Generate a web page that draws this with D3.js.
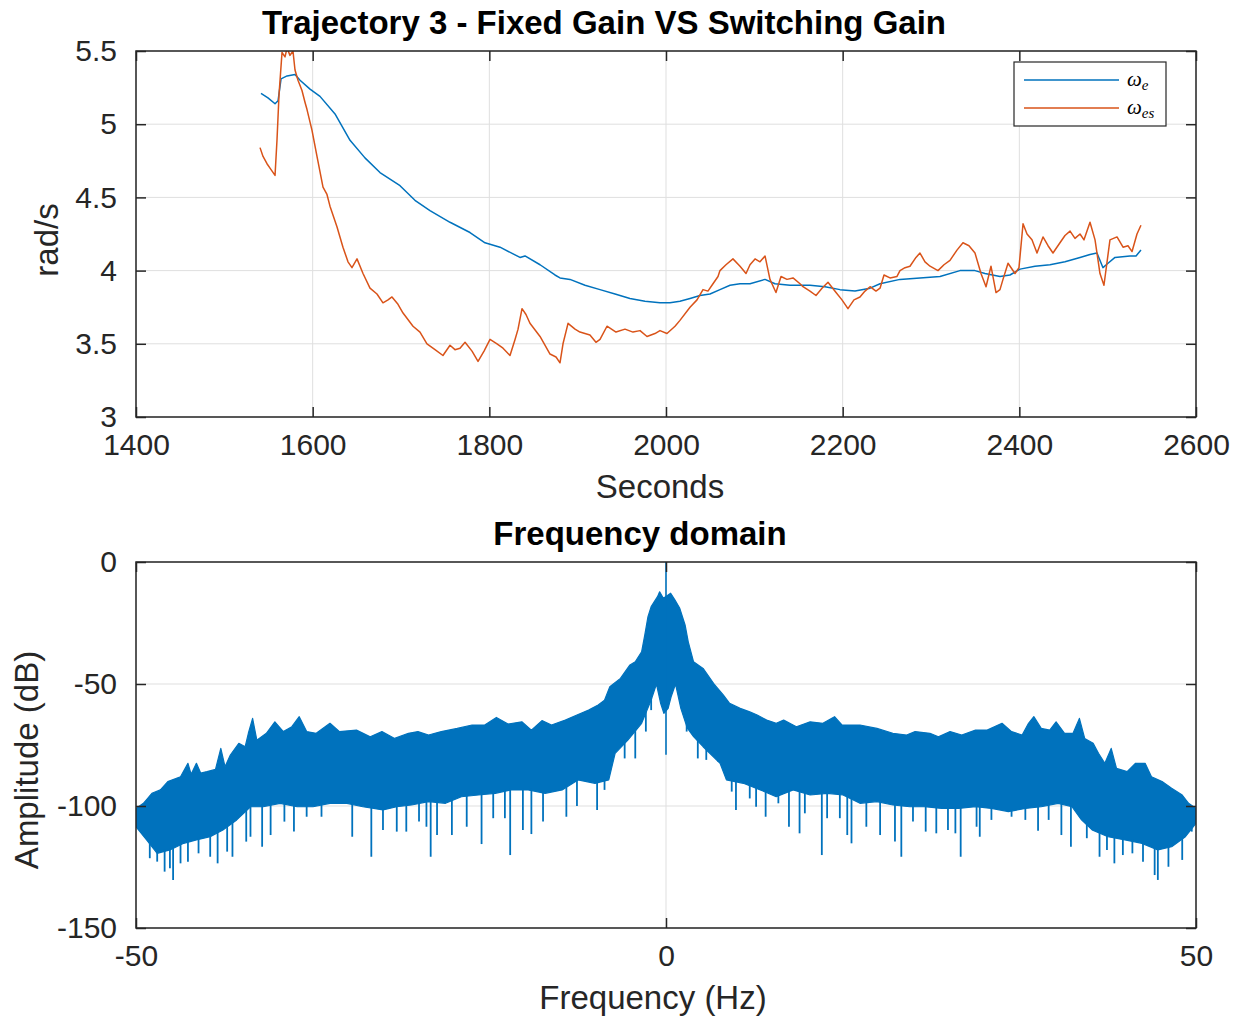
<!DOCTYPE html>
<html lang="en">
<head>
    <meta charset="UTF-8">
    <title>Trajectory 3 - Fixed Gain VS Switching Gain</title>
    <script src="https://d3js.org/d3.v7.min.js"></script>
    <style>
        body { margin: 0; background: #fff; }
        svg { display: block; }
        .tick text { font-family: "Liberation Sans", Arial, Helvetica, sans-serif; fill: #262626; }
    </style>
</head>
<body>
    <div id="container"></div>

    <script>
        // ---- top plot: time series [seconds, rad/s]
        const omegaE = [
            [1541.5, 5.21], [1549.4, 5.18], [1557.4, 5.14], [1560.8, 5.16], [1564.2, 5.31], [1571, 5.33],
            [1580, 5.34], [1585.7, 5.30], [1597, 5.24], [1608.3, 5.19], [1625.3, 5.07], [1642.3, 4.89],
            [1659.2, 4.77], [1676.2, 4.67], [1698.9, 4.58], [1715.8, 4.48], [1732.8, 4.41], [1755.5, 4.33],
            [1778.1, 4.26], [1795.1, 4.19], [1812.1, 4.16], [1834.7, 4.09], [1840.4, 4.10], [1857.4, 4.04],
            [1874.3, 3.97], [1880, 3.95], [1891.3, 3.94], [1908.3, 3.90], [1925.3, 3.87], [1942.3, 3.84],
            [1959.2, 3.81], [1976.2, 3.79], [1993.2, 3.78], [2004.5, 3.78], [2015.8, 3.79], [2027.2, 3.81],
            [2038.5, 3.83], [2049.8, 3.84], [2061.1, 3.87], [2072.5, 3.90], [2083.8, 3.91], [2095.1, 3.91],
            [2112.1, 3.94], [2123.4, 3.91], [2140.4, 3.90], [2163, 3.90], [2180, 3.89], [2197, 3.87],
            [2214, 3.86], [2231, 3.88], [2242.3, 3.91], [2264.9, 3.94], [2287.5, 3.95], [2310.2, 3.96],
            [2332.8, 4.00], [2349.8, 4.00], [2361.1, 3.98], [2378.1, 3.96], [2389.4, 3.97], [2400.8, 4.01],
            [2417.7, 4.03], [2434.7, 4.04], [2451.7, 4.06], [2468.7, 4.09], [2480, 4.11], [2487.9, 4.12],
            [2494.7, 4.02], [2500.4, 4.05], [2508.3, 4.09], [2525.3, 4.10], [2532.1, 4.10], [2537.7, 4.14]
        ];

        const omegaEs = [
            [1540.4, 4.84], [1543.8, 4.78], [1548.3, 4.73], [1551.7, 4.70], [1557.4, 4.65], [1559.6, 4.89],
            [1561.9, 5.20], [1565.3, 5.49], [1568.7, 5.46], [1571, 5.52], [1574.3, 5.47], [1577.7, 5.50],
            [1580, 5.37], [1583.4, 5.30], [1587.9, 5.23], [1591.3, 5.15], [1593.6, 5.10], [1599.2, 4.96],
            [1604.9, 4.78], [1611.7, 4.57], [1616.2, 4.52], [1619.6, 4.44], [1627.5, 4.30], [1634.3, 4.16],
            [1640, 4.06], [1644.5, 4.02], [1650.2, 4.08], [1657, 3.98], [1664.9, 3.88], [1672.8, 3.84],
            [1679.6, 3.78], [1685.3, 3.80], [1689.8, 3.82], [1696.6, 3.77], [1702.3, 3.71], [1713.6, 3.62],
            [1721.5, 3.58], [1729.4, 3.50], [1738.5, 3.46], [1747.5, 3.42], [1755.5, 3.49], [1761.1, 3.46],
            [1766.8, 3.47], [1772.5, 3.51], [1780.4, 3.45], [1787.2, 3.38], [1794, 3.45], [1800.8, 3.53],
            [1808.7, 3.50], [1815.5, 3.47], [1823.4, 3.42], [1829.1, 3.53], [1832.5, 3.60], [1837, 3.74],
            [1841.5, 3.70], [1846, 3.64], [1857.4, 3.55], [1868.7, 3.43], [1875.5, 3.41], [1880, 3.37],
            [1883.4, 3.50], [1889.1, 3.64], [1897, 3.60], [1902.6, 3.58], [1913.9, 3.56], [1920.7, 3.51],
            [1925.3, 3.53], [1933.2, 3.62], [1943.4, 3.58], [1953.6, 3.60], [1962.6, 3.58], [1970.6, 3.59],
            [1978.5, 3.55], [1987.5, 3.57], [1993.2, 3.59], [2001.1, 3.57], [2010.2, 3.62], [2015.8, 3.66],
            [2027.2, 3.75], [2035.1, 3.80], [2041.9, 3.87], [2047.5, 3.86], [2053.2, 3.91], [2058.9, 3.96],
            [2061.1, 4.00], [2067.9, 4.04], [2075.8, 4.08], [2083.8, 4.03], [2090.6, 3.98], [2095.1, 4.04],
            [2100.8, 4.08], [2106.4, 4.06], [2112.1, 4.10], [2117.7, 3.94], [2124.5, 3.85], [2130.2, 3.96],
            [2137, 3.94], [2143.8, 3.95], [2151.7, 3.91], [2155.1, 3.89], [2163, 3.86], [2169.8, 3.83],
            [2176.6, 3.88], [2183.4, 3.92], [2192.5, 3.85], [2199.2, 3.80], [2206, 3.74], [2212.8, 3.80],
            [2219.6, 3.82], [2225.3, 3.86], [2231, 3.89], [2237.7, 3.86], [2242.3, 3.88], [2246.8, 3.97],
            [2253.6, 3.95], [2261.5, 3.96], [2264.9, 4.00], [2270.6, 4.02], [2276.2, 4.03], [2283, 4.09],
            [2287.5, 4.12], [2293.2, 4.06], [2298.9, 4.03], [2307.9, 4.00], [2314.7, 4.04], [2321.5, 4.07],
            [2329.4, 4.14], [2336.2, 4.19], [2343, 4.17], [2349.8, 4.12], [2356.6, 3.98], [2362.3, 3.89],
            [2367.9, 4.03], [2373.6, 3.85], [2378.1, 3.87], [2381.5, 3.94], [2387.2, 4.05], [2395.1, 3.98],
            [2399.6, 4.02], [2404.2, 4.32], [2408.7, 4.25], [2414.3, 4.21], [2420, 4.12], [2426.8, 4.23],
            [2432.5, 4.17], [2438.1, 4.12], [2446, 4.19], [2451.7, 4.24], [2457.4, 4.27], [2463, 4.22],
            [2468.7, 4.25], [2473.2, 4.21], [2480, 4.33], [2485.7, 4.21], [2491.3, 3.98], [2495.8, 3.90],
            [2502.6, 4.21], [2510.6, 4.23], [2517.4, 4.16], [2523, 4.17], [2527.6, 4.13], [2533.2, 4.25],
            [2537.7, 4.31]
        ];

        const timeTicks = [1400, 1600, 1800, 2000, 2200, 2400, 2600];
        const speedTicks = [3, 3.5, 4, 4.5, 5, 5.5];
        const legendLabels = [["\u03c9", "e"], ["\u03c9", "es"]];

        // ---- bottom plot: spectrum [Hz, dB]
        // upper edge of the dense band
        const specUpper = [
            [-50, -101], [-49.3, -98.9], [-48.5, -94.8], [-47.7, -93.4], [-47.0, -90.0], [-45.8, -88.0],
            [-45.1, -82.5], [-44.8, -87], [-44.3, -82.5], [-43.9, -86.5], [-43.3, -85.9], [-42.5, -85.0],
            [-42.0, -76.4], [-41.6, -83.9], [-41.1, -79.1], [-40.3, -74.3], [-39.7, -75.7], [-39.4, -70.2],
            [-39.0, -64.1], [-38.6, -73.0], [-37.7, -70.2], [-36.9, -65.5], [-36.1, -69.5], [-35.3, -67.5],
            [-34.6, -63.4], [-33.9, -69.5], [-33.0, -70.2], [-31.7, -66.1], [-30.8, -69.5], [-29.2, -68.9],
            [-27.9, -71.6], [-26.8, -69.5], [-25.6, -72.3], [-24.3, -70.2], [-23.4, -69.5], [-22.4, -70.9],
            [-21.2, -69.5], [-19.7, -68.2], [-18.3, -66.8], [-17.1, -66.8], [-16.0, -63.7], [-14.9, -66.4],
            [-13.6, -65.5], [-12.7, -68.9], [-11.7, -65.0], [-10.8, -66.8], [-9.5, -64.8], [-8.4, -62.7],
            [-7.3, -60.7], [-6.4, -58.6], [-5.8, -56.6], [-5.3, -51.1], [-4.3, -47.7], [-3.4, -42.2],
            [-2.9, -40.9], [-2.3, -36.8], [-2.0, -29.9], [-1.7, -22.4], [-1.4, -18.3], [-0.8, -14.2],
            [-0.6, -12.2], [-0.25, -14.9], [0.44, -12.8], [0.85, -15.6], [1.3, -19.0], [1.8, -25.8],
            [2.1, -32.7], [2.6, -40.9], [3.5, -43.6], [4.6, -50.4], [5.4, -54.5], [6.0, -57.9],
            [7.0, -60.0], [7.9, -61.4], [8.6, -62.7], [9.5, -64.8], [10.4, -66.1], [11.1, -64.8],
            [12.3, -67.5], [13.6, -65.5], [14.8, -66.1], [15.9, -63.4], [16.6, -66.8], [18.3, -66.8],
            [19.9, -68.2], [21.4, -70.2], [22.7, -70.9], [23.5, -69.5], [24.9, -70.2], [25.7, -71.6],
            [26.8, -69.5], [27.9, -70.9], [29.2, -68.9], [30.3, -68.9], [31.7, -66.1], [32.6, -69.5],
            [33.6, -70.9], [34.2, -66.1], [34.7, -63.4], [35.4, -68.2], [36.2, -68.9], [36.8, -65.5],
            [37.6, -70.2], [38.4, -70.2], [39.0, -64.1], [39.5, -72.3], [40.3, -74.3], [40.8, -78.4],
            [41.4, -82.5], [42.0, -76.4], [42.5, -84.6], [43.5, -85.9], [44.3, -82.5], [45.2, -82.5],
            [45.8, -88.0], [46.8, -90.0], [47.7, -92.7], [48.7, -95.5], [49.3, -98.9], [50, -101]
        ];

        // lower edge of the dense band
        const specLower = [
            [-50, -108.5], [-49.0, -113.9], [-48.0, -119.4], [-46.8, -118.0], [-45.5, -115.3], [-44.3, -113.9],
            [-43.0, -112.6], [-41.8, -109.8], [-40.5, -105.7], [-39.2, -100.3], [-38.0, -100.3], [-36.4, -98.9],
            [-34.8, -100.3], [-33.3, -100.3], [-31.7, -98.9], [-30.1, -98.9], [-28.6, -100.3], [-26.7, -101.6],
            [-25.4, -100.3], [-24.0, -99.6], [-22.4, -98.2], [-20.8, -98.9], [-19.3, -96.2], [-17.7, -95.5],
            [-16.1, -94.8], [-14.6, -93.4], [-13.0, -93.4], [-11.4, -94.8], [-9.8, -93.4], [-8.3, -89.3],
            [-6.7, -90.7], [-5.4, -89.3], [-4.8, -78.4], [-3.6, -73.0], [-2.3, -66.1], [-1.4, -56.6],
            [-0.9, -50], [-0.5, -58], [-0.2, -62], [0.2, -60], [0.5, -55], [0.9, -50], [1.4, -60],
            [2.0, -68], [2.6, -71.6], [3.5, -75.7], [5.1, -82.5], [5.7, -89.3], [7.3, -90.7], [8.9, -93.4],
            [10.4, -96.2], [12.0, -93.4], [13.6, -95.5], [15.2, -94.8], [16.7, -95.5], [18.3, -98.9],
            [19.9, -98.2], [21.4, -99.6], [23.0, -100.3], [24.4, -100.3], [26.0, -101], [27.6, -101],
            [29.2, -100.3], [30.7, -101], [32.3, -102.3], [33.9, -101], [35.4, -100.3], [37.0, -98.9],
            [38.3, -100.3], [39.2, -105.7], [40.2, -109.8], [41.7, -112.6], [43.3, -113.9], [44.9, -115.3],
            [46.4, -118.0], [47.7, -116.7], [49.0, -112.6], [50, -107.1]
        ];

        // tips of the downward spikes below the band
        const specDips = [
            [-48.7, -121.4], [-48.0, -122.8], [-47.3, -126.9], [-46.8, -125.5], [-46.5, -130.3], [-45.8, -123.5],
            [-45.1, -122.8], [-44.1, -119.4], [-43.0, -120.8], [-42.3, -123.5], [-41.4, -118.7], [-40.9, -120.8],
            [-39.6, -114.6], [-39.2, -112.6], [-38.1, -116.7], [-37.3, -111.9], [-36.0, -106.4], [-35.1, -110.5],
            [-33.9, -104.4], [-32.5, -104.4], [-29.6, -112.6], [-27.8, -120.8], [-26.7, -109.8], [-25.4, -110.5],
            [-24.5, -110.5], [-23.3, -106.4], [-22.6, -108.5], [-22.2, -120.8], [-21.6, -111.9], [-20.2, -111.9],
            [-18.8, -108.5], [-17.4, -115.6], [-16.3, -105.0], [-15.2, -105.0], [-14.7, -120.1], [-13.5, -109.8],
            [-12.7, -111.5], [-11.6, -106.4], [-9.4, -104.4], [-8.4, -100], [-6.5, -101.6], [-5.8, -93.4],
            [-3.9, -80.5], [-2.9, -80.5], [-1.9, -69.5], [-1.4, -60.7],
            [1.95, -69.5], [3.0, -80.5], [3.8, -81.1], [4.9, -81.8], [6.2, -94.1], [6.6, -101.6],
            [7.9, -96.9], [8.5, -100.3], [9.4, -104.4], [10.6, -98.9], [11.6, -108.5], [12.6, -111.2],
            [13.1, -103.0], [14.7, -120.1], [15.2, -105.0], [16.4, -105.0], [17.1, -111.9], [17.5, -115.3],
            [18.9, -108.5], [20.2, -111.9], [21.6, -114.6], [22.2, -120.8], [23.3, -106.4], [24.5, -110.5],
            [25.5, -111.2], [26.6, -109.8], [27.3, -111.2], [27.8, -120.8], [29.3, -108.5], [29.6, -112.6],
            [30.7, -105.7], [32.6, -104.4], [33.9, -105.7], [35.1, -110.1], [36.1, -105.7], [37.3, -111.9],
            [38.2, -116.7], [39.7, -113.2], [40.9, -120.8], [41.6, -118.0], [42.3, -123.5], [43.1, -120.1],
            [44.0, -119.4], [45.0, -122.8], [46.1, -128.3], [46.4, -130.3], [47.4, -124.9], [48.7, -122.1],
            [49.6, -110.5]
        ];

        // carrier line at 0 Hz
        const carrier = [[0, 0], [0, -79]];

        const freqTicks = [-50, 0, 50];
        const dbTicks = [-150, -100, -50, 0];

        // ---- look
        const width = 1237;
        const height = 1019;
        const colorBlue = "#0072BD";
        const colorOrange = "#D95319";
        const colorAxis = "#262626";
        const colorGrid = "#dfdfdf";
        const fontSans = '"Liberation Sans", Arial, Helvetica, sans-serif';
        const tickFont = 30;
        const labelFont = 33;

        const svg = d3.select("#container").append("svg")
            .attr("width", width)
            .attr("height", height);

        // draws grid now, returns a function that adds box, inside ticks and labels on top
        function drawFrame(x, y, xTicks, yTicks, fmt) {
            const [l, r] = x.range();
            const [b, t] = y.range();

            const grid = svg.append("g");
            grid.selectAll(".gx").data(xTicks).enter().append("line")
                .attr("x1", d => x(d)).attr("x2", d => x(d))
                .attr("y1", t).attr("y2", b)
                .attr("stroke", colorGrid).attr("stroke-width", 1);
            grid.selectAll(".gy").data(yTicks).enter().append("line")
                .attr("x1", l).attr("x2", r)
                .attr("y1", d => y(d)).attr("y2", d => y(d))
                .attr("stroke", colorGrid).attr("stroke-width", 1);

            return function finish() {
                const axes = [
                    [d3.axisBottom(x).tickValues(xTicks).tickSize(-10).tickPadding(17).tickFormat(fmt), `translate(0,${b})`],
                    [d3.axisTop(x).tickValues(xTicks).tickSize(-10).tickFormat(""), `translate(0,${t})`],
                    [d3.axisLeft(y).tickValues(yTicks).tickSize(-10).tickPadding(19).tickFormat(fmt), `translate(${l},0)`],
                    [d3.axisRight(y).tickValues(yTicks).tickSize(-10).tickFormat(""), `translate(${r},0)`]
                ];
                axes.forEach(([ax, tr]) => {
                    const g = svg.append("g").attr("transform", tr).call(ax);
                    g.select(".domain").remove();
                    g.selectAll(".tick line").attr("stroke", colorAxis).attr("stroke-width", 1.5);
                    g.selectAll(".tick text").attr("font-size", tickFont);
                });
                svg.append("rect")
                    .attr("x", l).attr("y", t)
                    .attr("width", r - l).attr("height", b - t)
                    .attr("fill", "none")
                    .attr("stroke", colorAxis)
                    .attr("stroke-width", 1.5);
            };
        }

        function clipFor(id, x, y) {
            const [l, r] = x.range();
            const [b, t] = y.range();
            svg.append("clipPath").attr("id", id)
                .append("rect").attr("x", l).attr("y", t).attr("width", r - l).attr("height", b - t);
            return svg.append("g").attr("clip-path", `url(#${id})`);
        }

        // ================= top plot
        const x1 = d3.scaleLinear().domain([1400, 2600]).range([136, 1196]);
        const y1 = d3.scaleLinear().domain([3, 5.5]).range([417, 51]);
        const fmtNum = d => String(d);

        const finishTop = drawFrame(x1, y1, timeTicks, speedTicks, fmtNum);
        const plotTop = clipFor("clipTop", x1, y1);

        const line1 = d3.line().x(d => x1(d[0])).y(d => y1(d[1]));
        plotTop.append("path").datum(omegaE)
            .attr("d", line1).attr("fill", "none")
            .attr("stroke", colorBlue).attr("stroke-width", 1.5).attr("stroke-linejoin", "round");
        plotTop.append("path").datum(omegaEs)
            .attr("d", line1).attr("fill", "none")
            .attr("stroke", colorOrange).attr("stroke-width", 1.5).attr("stroke-linejoin", "round");
        finishTop();

        svg.append("text")
            .attr("x", 604).attr("y", 34)
            .attr("text-anchor", "middle")
            .attr("font-family", fontSans).attr("font-weight", "bold").attr("font-size", labelFont)
            .attr("fill", "#000")
            .text("Trajectory 3 - Fixed Gain VS Switching Gain");
        svg.append("text")
            .attr("x", 660).attr("y", 498)
            .attr("text-anchor", "middle")
            .attr("font-family", fontSans).attr("font-size", labelFont).attr("fill", colorAxis)
            .text("Seconds");
        svg.append("text")
            .attr("transform", "translate(58,240) rotate(-90)")
            .attr("text-anchor", "middle")
            .attr("font-family", fontSans).attr("font-size", labelFont).attr("fill", colorAxis)
            .text("rad/s");

        // legend
        const legend = svg.append("g");
        legend.append("rect")
            .attr("x", 1014).attr("y", 62).attr("width", 152).attr("height", 64)
            .attr("fill", "#fff").attr("stroke", colorAxis).attr("stroke-width", 1.2);
        [colorBlue, colorOrange].forEach((c, i) => {
            const ly = 80 + i * 28;
            legend.append("line")
                .attr("x1", 1024).attr("x2", 1119).attr("y1", ly).attr("y2", ly)
                .attr("stroke", c).attr("stroke-width", 1.4);
            const t = legend.append("text")
                .attr("x", 1127).attr("y", ly + 6)
                .attr("font-family", '"Liberation Serif", "DejaVu Serif", serif')
                .attr("font-style", "italic").attr("font-size", 21).attr("fill", "#000");
            t.append("tspan").text(legendLabels[i][0]);
            t.append("tspan").attr("dy", 4).attr("font-size", 15).text(legendLabels[i][1]);
        });

        // ================= bottom plot
        const x2 = d3.scaleLinear().domain([-50, 50]).range([136, 1196]);
        const y2 = d3.scaleLinear().domain([-150, 0]).range([928, 562]);

        const finishBottom = drawFrame(x2, y2, freqTicks, dbTicks, fmtNum);
        const plotBottom = clipFor("clipBottom", x2, y2);

        // lower edge lookup, used only to start each spike inside the band
        const lowerAt = f => {
            const i = d3.bisector(d => d[0]).right(specLower, f);
            const a = specLower[Math.max(0, i - 1)];
            const b = specLower[Math.min(specLower.length - 1, i)];
            if (a === b) return a[1];
            return a[1] + (b[1] - a[1]) * (f - a[0]) / (b[0] - a[0]);
        };

        // dense band: area between the upper and lower edges
        const specLine = d3.line().x(d => x2(d[0])).y(d => y2(d[1]));
        const bandPath = specLine(specUpper) + "L" + specLine(specLower.slice().reverse()).slice(1) + "Z";
        plotBottom.append("path")
            .attr("d", bandPath)
            .attr("fill", colorBlue)
            .attr("stroke", colorBlue).attr("stroke-width", 1.2).attr("stroke-linejoin", "round");

        plotBottom.selectAll(".dip").data(specDips).enter().append("line")
            .attr("class", "dip")
            .attr("x1", d => x2(d[0])).attr("x2", d => x2(d[0]))
            .attr("y1", d => y2(lowerAt(d[0])) - 2)
            .attr("y2", d => y2(d[1]))
            .attr("stroke", colorBlue).attr("stroke-width", 1.8);

        plotBottom.append("path").datum(carrier)
            .attr("d", specLine).attr("fill", "none")
            .attr("stroke", colorBlue).attr("stroke-width", 1.6);
        finishBottom();

        svg.append("text")
            .attr("x", 640).attr("y", 545)
            .attr("text-anchor", "middle")
            .attr("font-family", fontSans).attr("font-weight", "bold").attr("font-size", labelFont)
            .attr("fill", "#000")
            .text("Frequency domain");
        svg.append("text")
            .attr("x", 653).attr("y", 1009)
            .attr("text-anchor", "middle")
            .attr("font-family", fontSans).attr("font-size", labelFont).attr("fill", colorAxis)
            .text("Frequency (Hz)");
        svg.append("text")
            .attr("transform", "translate(38,760) rotate(-90)")
            .attr("text-anchor", "middle")
            .attr("font-family", fontSans).attr("font-size", labelFont).attr("fill", colorAxis)
            .text("Amplitude (dB)");
    </script>
</body>
</html>
